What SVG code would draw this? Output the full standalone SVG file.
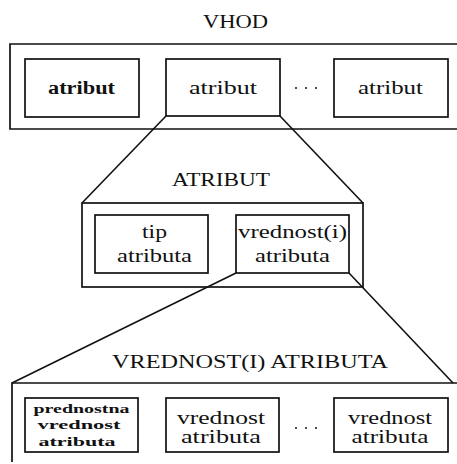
<svg xmlns="http://www.w3.org/2000/svg" width="457" height="464" viewBox="0 0 457 464">
<style>
.bx{fill:none;stroke:#111;stroke-width:1.7}
.ln{fill:none;stroke:#111;stroke-width:1.6}
text{font-family:"Liberation Serif","DejaVu Serif",serif;fill:#111;text-anchor:middle}
.ttl{font-size:19px}
.t{font-size:18px}
.b{font-weight:bold}
.s{font-size:12px;font-weight:bold}
.dot{fill:#111}
</style>
<rect width="457" height="464" fill="#fff"/>
<g id="connectors">
<line class="ln" x1="166" y1="116" x2="82" y2="203"/>
<line class="ln" x1="280" y1="116" x2="363" y2="203"/>
<line class="ln" x1="236" y1="273" x2="12" y2="383"/>
<line class="ln" x1="349" y1="273" x2="453" y2="383"/>
</g>
<g id="vhod">
<text class="ttl" x="235.5" y="28" textLength="65" lengthAdjust="spacingAndGlyphs">VHOD</text>
<path class="bx" d="M457,44 H10 V129 H457"/>
</g>
<g id="atribut1">
<rect class="bx" x="25" y="59" width="114" height="58"/>
<text class="t b" x="81.5" y="94" textLength="67" lengthAdjust="spacingAndGlyphs">atribut</text>
</g>
<g id="atribut2">
<rect class="bx" x="166" y="59" width="114" height="57"/>
<text class="t" x="223" y="94" textLength="68" lengthAdjust="spacingAndGlyphs">atribut</text>
</g>
<g id="dots1">
<circle class="dot" cx="296" cy="88" r="1"/><circle class="dot" cx="306" cy="88" r="1"/><circle class="dot" cx="316" cy="88" r="1"/>
</g>
<g id="atribut3">
<rect class="bx" x="334" y="59" width="114" height="58"/>
<text class="t" x="390.5" y="94" textLength="65" lengthAdjust="spacingAndGlyphs">atribut</text>
</g>
<g id="atribut">
<text class="ttl" x="221" y="186" textLength="98" lengthAdjust="spacingAndGlyphs">ATRIBUT</text>
<rect class="bx" x="82" y="203" width="281" height="84"/>
</g>
<g id="tip">
<rect class="bx" x="95" y="215" width="113" height="58"/>
<text class="t" x="154.5" y="238" textLength="25" lengthAdjust="spacingAndGlyphs">tip</text>
<text class="t" x="154.5" y="262" textLength="75" lengthAdjust="spacingAndGlyphs">atributa</text>
</g>
<g id="vrednosti">
<rect class="bx" x="236" y="215" width="113" height="58"/>
<text class="t" x="292.5" y="238" textLength="109" lengthAdjust="spacingAndGlyphs">vrednost(i)</text>
<text class="t" x="292.5" y="262" textLength="75" lengthAdjust="spacingAndGlyphs">atributa</text>
</g>
<g id="vrednost-atributa">
<text class="ttl" x="250" y="368" textLength="276" lengthAdjust="spacingAndGlyphs">VREDNOST(I) ATRIBUTA</text>
<path class="bx" d="M12,462 V383 H457"/>
</g>
<g id="prednostna">
<rect class="bx" x="25" y="398" width="113" height="54"/>
<text class="s" x="81.5" y="413" textLength="96" lengthAdjust="spacingAndGlyphs">prednostna</text>
<text class="s" x="79" y="429" textLength="83" lengthAdjust="spacingAndGlyphs">vrednost</text>
<text class="s" x="77" y="446" textLength="77" lengthAdjust="spacingAndGlyphs">atributa</text>
</g>
<g id="vrednost1">
<rect class="bx" x="166" y="398" width="113" height="54"/>
<text class="t" x="221" y="424" textLength="88" lengthAdjust="spacingAndGlyphs">vrednost</text>
<text class="t" x="221" y="443" textLength="80" lengthAdjust="spacingAndGlyphs">atributa</text>
</g>
<g id="dots2">
<circle class="dot" cx="296" cy="428" r="1"/><circle class="dot" cx="306" cy="428" r="1"/><circle class="dot" cx="316" cy="428" r="1"/>
</g>
<g id="vrednost2">
<rect class="bx" x="334" y="398" width="114" height="54"/>
<text class="t" x="390" y="424" textLength="84" lengthAdjust="spacingAndGlyphs">vrednost</text>
<text class="t" x="390" y="443" textLength="77" lengthAdjust="spacingAndGlyphs">atributa</text>
</g>
</svg>
